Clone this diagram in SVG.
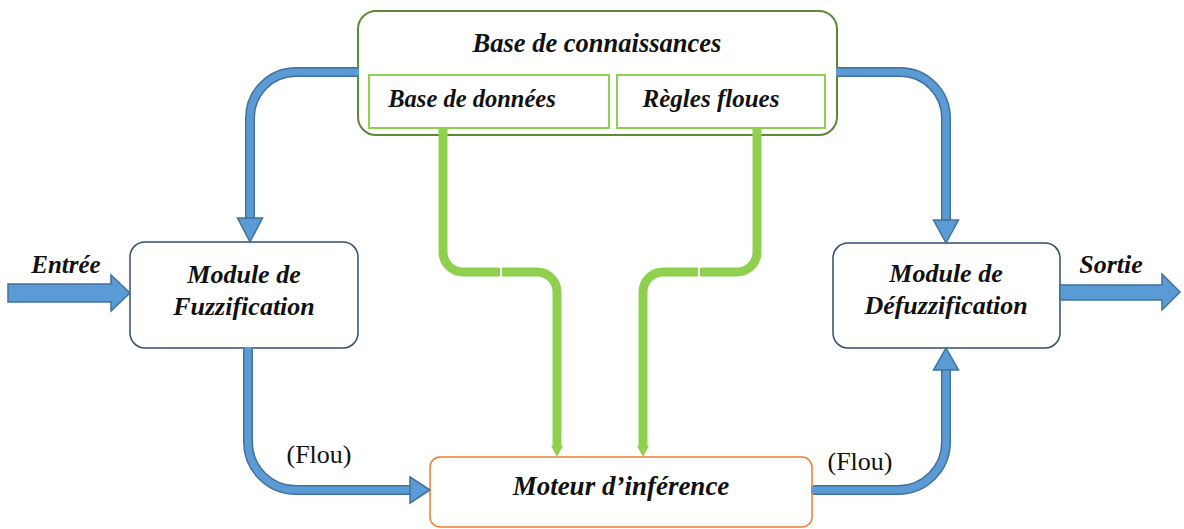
<svg xmlns="http://www.w3.org/2000/svg" width="1184" height="529" viewBox="0 0 1184 529">
<defs>
<style>
.t{font-family:"Liberation Serif","Times New Roman",serif;font-weight:bold;font-style:italic;fill:#111;text-anchor:middle}
.r{font-family:"Liberation Serif","Times New Roman",serif;fill:#111;text-anchor:middle;font-size:26px}
.bo{fill:none;stroke:#41719c;stroke-width:10}
.bi{fill:none;stroke:#5b9bd5;stroke-width:7}
.bh{fill:#5b9bd5;stroke:#41719c;stroke-width:1.5;stroke-linejoin:miter}
.g{fill:none;stroke:#8fd14f;stroke-width:9}
.gh{fill:#8fd14f}
</style>
</defs>
<rect width="1184" height="529" fill="#fff"/>
<g id="base-connaissances">
  <rect x="358" y="11" width="479" height="124" rx="18" fill="#fff" stroke="#5b8a32" stroke-width="2"/>
  <text class="t" x="597" y="52" font-size="26.5">Base de connaissances</text>
</g>
<g id="base-donnees">
  <rect x="369" y="75" width="240" height="53" fill="#fff" stroke="#8fd14f" stroke-width="2"/>
  <text class="t" x="472" y="107" font-size="24.5">Base de données</text>
</g>
<g id="regles-floues">
  <rect x="617" y="75" width="208" height="53" fill="#fff" stroke="#8fd14f" stroke-width="2"/>
  <text class="t" x="711" y="107" font-size="25">Règles floues</text>
</g>
<g id="fuzzification">
  <rect x="130" y="242" width="228" height="106" rx="15" fill="#fff" stroke="#2f4d6e" stroke-width="1.5"/>
  <text class="t" x="244" y="283" font-size="26">Module de</text>
  <text class="t" x="244" y="315" font-size="26">Fuzzification</text>
</g>
<g id="defuzzification">
  <rect x="833" y="243" width="227" height="105" rx="15" fill="#fff" stroke="#2f4d6e" stroke-width="1.5"/>
  <text class="t" x="946" y="282" font-size="26">Module de</text>
  <text class="t" x="946" y="314" font-size="26">Défuzzification</text>
</g>
<g id="moteur">
  <rect x="430" y="457" width="382" height="70" rx="10" fill="#fff" stroke="#ed7d31" stroke-width="1.5"/>
  <text class="t" x="621" y="495" font-size="27">Moteur d’inférence</text>
</g>
<g id="connectors">
  <path class="bo" d="M357,72 H296 A46,46 0 0 0 250,118 V219"/>
  <path class="bi" d="M359,72 H296 A46,46 0 0 0 250,118 V219"/>
  <polygon class="bh" points="237.5,218 262.5,218 250,242"/>
  <path class="bo" d="M838,72 H900 A46,46 0 0 1 946,118 V221"/>
  <path class="bi" d="M836,72 H900 A46,46 0 0 1 946,118 V221"/>
  <polygon class="bh" points="933.5,220 958.5,220 946,243"/>
  <path class="bo" d="M248,349 V442 A48,48 0 0 0 296,490 H412"/>
  <path class="bi" d="M248,347 V442 A48,48 0 0 0 296,490 H412"/>
  <polygon class="bh" points="410,477 410,503 430,490"/>
  <path class="bo" d="M813,490 H898 A48,48 0 0 0 946,442 V369"/>
  <path class="bi" d="M811,490 H898 A48,48 0 0 0 946,442 V369"/>
  <polygon class="bh" points="933.5,370 958.5,370 946,348"/>
  <polygon class="bh" points="8,284 111,284 111,275 130,293 111,311 111,302 8,302"/>
  <polygon class="bh" points="1060,285 1162,285 1162,274 1180,292 1162,310 1162,300 1060,300"/>
  <path class="g" d="M443,129 V252 A20,20 0 0 0 463,272 H500"/>
  <path class="g" d="M502,272 H537 A20,20 0 0 1 557,292 V448"/>
  <polygon class="gh" points="551,446 563,446 557,457"/>
  <path class="g" d="M757,129 V252 A20,20 0 0 1 737,272 H700"/>
  <path class="g" d="M698,272 H663 A20,20 0 0 0 643,292 V448"/>
  <polygon class="gh" points="637,446 649,446 643,457"/>
</g>
<g id="labels">
  <text class="t" x="66" y="273" font-size="25">Entrée</text>
  <text class="t" x="1111" y="273" font-size="26">Sortie</text>
  <text class="r" x="319" y="463">(Flou)</text>
  <text class="r" x="860" y="470">(Flou)</text>
</g>
</svg>
